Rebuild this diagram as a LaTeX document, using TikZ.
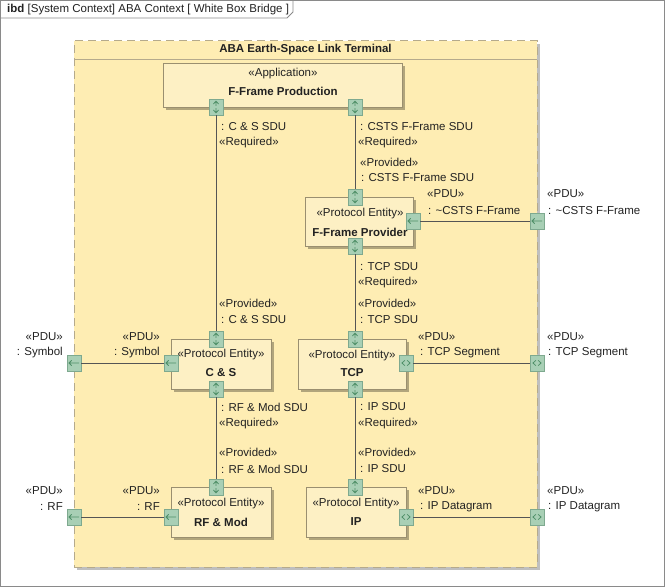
\documentclass[tikz,border=0pt]{standalone}
\usepackage{fontspec}
\setmainfont{Liberation Sans}
\usetikzlibrary{shadows}
\definecolor{cont}{HTML}{FEEDB3}
\definecolor{contborder}{HTML}{B5AA8C}
\definecolor{blockfill}{HTML}{FDF0C4}
\definecolor{blockborder}{HTML}{9A8F70}
\definecolor{portfill}{HTML}{A8CFB5}
\definecolor{portborder}{HTML}{7EA98F}
\definecolor{glyphc}{HTML}{4F8F68}
\definecolor{wire}{HTML}{555555}
\definecolor{framec}{HTML}{8A8A8A}
\definecolor{txt}{HTML}{222222}
\begin{document}
\begin{tikzpicture}[x=1pt,y=-1pt,
  font=\fontsize{11.5}{13}\selectfont,
  blk/.style={draw=blockborder, fill=blockfill, line width=0.8pt, inner sep=0pt,
    drop shadow={shadow xshift=3pt, shadow yshift=-3pt, fill=black, opacity=0.3}},
  port/.style={draw=portborder, fill=portfill, minimum width=14pt, minimum height=16pt,
    inner sep=0pt, line width=0.7pt},
  vport/.style={port, path picture={
    \begin{scope}[shift={(path picture bounding box.center)}, draw=glyphc, line width=0.8pt]
      \draw (-2.6,-3) -- (0,-5.8) -- (2.6,-3) (0,-5.8) -- (0,-1.2);
      \draw (-2.6,3) -- (0,5.8) -- (2.6,3) (0,5.8) -- (0,1.2);
    \end{scope}}},
  lport/.style={port, path picture={
    \begin{scope}[shift={(path picture bounding box.center)}, draw=glyphc, line width=0.8pt]
      \draw (5,0) -- (-5,0) (-2.3,-2.7) -- (-5,0) -- (-2.3,2.7);
    \end{scope}}},
  bport/.style={port, path picture={
    \begin{scope}[shift={(path picture bounding box.center)}, draw=glyphc, line width=0.8pt]
      \draw (-1.2,-2.6) -- (-4,0) -- (-1.2,2.6) (1.2,-2.6) -- (4,0) -- (1.2,2.6);
    \end{scope}}},
  wirestyle/.style={draw=wire, line width=0.8pt},
  lbl/.style={anchor=west, inner sep=0pt, text=txt},
  rlbl/.style={anchor=east, inner sep=0pt, text=txt},
  ctxt/.style={inner sep=0pt, text=txt},
  btxt/.style={inner sep=0pt, text=txt, font=\fontsize{11.5}{13}\selectfont\bfseries}
]
\useasboundingbox (0,0) rectangle (666,588);

% outer frame and tab
\draw[framec, line width=0.8pt] (0.5,0.5) rectangle (664,586);
\draw[framec, line width=0.8pt] (0.5,18) -- (287,18) -- (293,12) -- (293,0.5);
\node[lbl] (frametitle) at (7,10) {\textbf{ibd} [System Context] ABA Context [ White Box Bridge ]};

% container
\node[draw=contborder, dash pattern=on 8pt off 5pt, fill=cont, minimum width=463pt,
  minimum height=526pt, line width=1pt, inner sep=0pt,
  drop shadow={shadow xshift=3pt, shadow yshift=-3pt, fill=black, opacity=0.25}] (term) at (305.5,304) {};
\draw[contborder, line width=0.8pt] (74,59) -- (537,59);
\node[btxt] (termtitle) at (305.5,50) {ABA Earth-Space Link Terminal};

% blocks
\node[blk, minimum width=239pt, minimum height=44pt] (app) at (282.5,85) {};
\node[ctxt] (appst) at (283,74) {«Application»};
\node[btxt] (appnm) at (283,91) {F-Frame Production};

\node[blk, minimum width=108pt, minimum height=49pt] (ffp) at (359,221.5) {};
\node[ctxt] (ffpst) at (360,214) {«Protocol Entity»};
\node[btxt] (ffpnm) at (360,232) {F-Frame Provider};

\node[blk, minimum width=100pt, minimum height=50pt] (cs) at (221,364) {};
\node[ctxt] (csst) at (221,355) {«Protocol Entity»};
\node[btxt] (csnm) at (221,373) {C \& S};

\node[blk, minimum width=108pt, minimum height=50pt] (tcp) at (352,364) {};
\node[ctxt] (tcpst) at (352,356) {«Protocol Entity»};
\node[btxt] (tcpnm) at (352,373) {TCP};

\node[blk, minimum width=100pt, minimum height=50pt] (rf) at (221,512) {};
\node[ctxt] (rfst) at (221,504) {«Protocol Entity»};
\node[btxt] (rfnm) at (221,522) {RF \& Mod};

\node[blk, minimum width=100pt, minimum height=50pt] (ip) at (356,512) {};
\node[ctxt] (ipst) at (356,504) {«Protocol Entity»};
\node[btxt] (ipnm) at (356,522) {IP};

% ports
\node[vport] (appL) at (216,107) {};
\node[vport] (appR) at (355,107) {};
\node[vport] (ffpT) at (355,197) {};
\node[vport] (ffpB) at (355,246) {};
\node[lport] (ffpR) at (413,221) {};
\node[vport] (csT) at (216,339) {};
\node[vport] (csB) at (216,389) {};
\node[lport] (csL) at (171,363) {};
\node[vport] (tcpT) at (355,339) {};
\node[vport] (tcpB) at (355,389) {};
\node[bport] (tcpR) at (406,363) {};
\node[vport] (rfT) at (216,487) {};
\node[lport] (rfL) at (171,517) {};
\node[vport] (ipT) at (355,487) {};
\node[bport] (ipR) at (406,517) {};
\node[lport] (bR1) at (537,221) {};
\node[bport] (bR2) at (537,363) {};
\node[bport] (bR3) at (537,517) {};
\node[lport] (bL1) at (74,363) {};
\node[lport] (bL2) at (74,517) {};

% wires
\draw[wirestyle] (appL) -- (csT);
\draw[wirestyle] (appR) -- (ffpT);
\draw[wirestyle] (ffpB) -- (tcpT);
\draw[wirestyle] (csB) -- (rfT);
\draw[wirestyle] (tcpB) -- (ipT);
\draw[wirestyle] (ffpR) -- (bR1);
\draw[wirestyle] (csL) -- (bL1);
\draw[wirestyle] (tcpR) -- (bR2);
\draw[wirestyle] (rfL) -- (bL2);
\draw[wirestyle] (ipR) -- (bR3);

% labels left column
\node[lbl] (l1) at (221,127) {: C \& S SDU};
\node[lbl] (l2) at (219,143) {«Required»};
\node[lbl] (l3) at (219,303) {«Provided»};
\node[lbl] (l4) at (221,320) {: C \& S SDU};
\node[lbl] (l5) at (221,407) {: RF \& Mod SDU};
\node[lbl] (l6) at (219,424) {«Required»};
\node[lbl] (l7) at (219,452) {«Provided»};
\node[lbl] (l8) at (221,469) {: RF \& Mod SDU};

% labels right column
\node[lbl] (r1) at (360,127) {: CSTS F-Frame SDU};
\node[lbl] (r2) at (358,143) {«Required»};
\node[lbl] (r3) at (360,162) {«Provided»};
\node[lbl] (r4) at (361,178) {: CSTS F-Frame SDU};
\node[lbl] (r5) at (360,267) {: TCP SDU};
\node[lbl] (r6) at (358,283) {«Required»};
\node[lbl] (r7) at (358,303) {«Provided»};
\node[lbl] (r8) at (360,320) {: TCP SDU};
\node[lbl] (r9) at (360,407) {: IP SDU};
\node[lbl] (r10) at (358,424) {«Required»};
\node[lbl] (r11) at (358,452) {«Provided»};
\node[lbl] (r12) at (360,469) {: IP SDU};

% PDU labels
\node[lbl] (p1) at (427,194) {«PDU»};
\node[lbl] (p2) at (428,211) {: \textasciitilde CSTS F-Frame};
\node[lbl] (p3) at (547,194) {«PDU»};
\node[lbl] (p4) at (548,211) {: \textasciitilde CSTS F-Frame};
\node[lbl] (p5) at (418,337) {«PDU»};
\node[lbl] (p6) at (420,353) {: TCP Segment};
\node[lbl] (p7) at (547,337) {«PDU»};
\node[lbl] (p8) at (548,353) {: TCP Segment};
\node[lbl] (p9) at (418,491) {«PDU»};
\node[lbl] (p10) at (420,507) {: IP Datagram};
\node[lbl] (p11) at (547,491) {«PDU»};
\node[lbl] (p12) at (548,507) {: IP Datagram};
\node[rlbl] (q1) at (160,337) {«PDU»};
\node[rlbl] (q2) at (160,353) {: Symbol};
\node[rlbl] (q3) at (63,337) {«PDU»};
\node[rlbl] (q4) at (63,353) {: Symbol};
\node[rlbl] (q5) at (160,491) {«PDU»};
\node[rlbl] (q6) at (160,507) {: RF};
\node[rlbl] (q7) at (63,491) {«PDU»};
\node[rlbl] (q8) at (63,507) {: RF};
\end{tikzpicture}
\end{document}
